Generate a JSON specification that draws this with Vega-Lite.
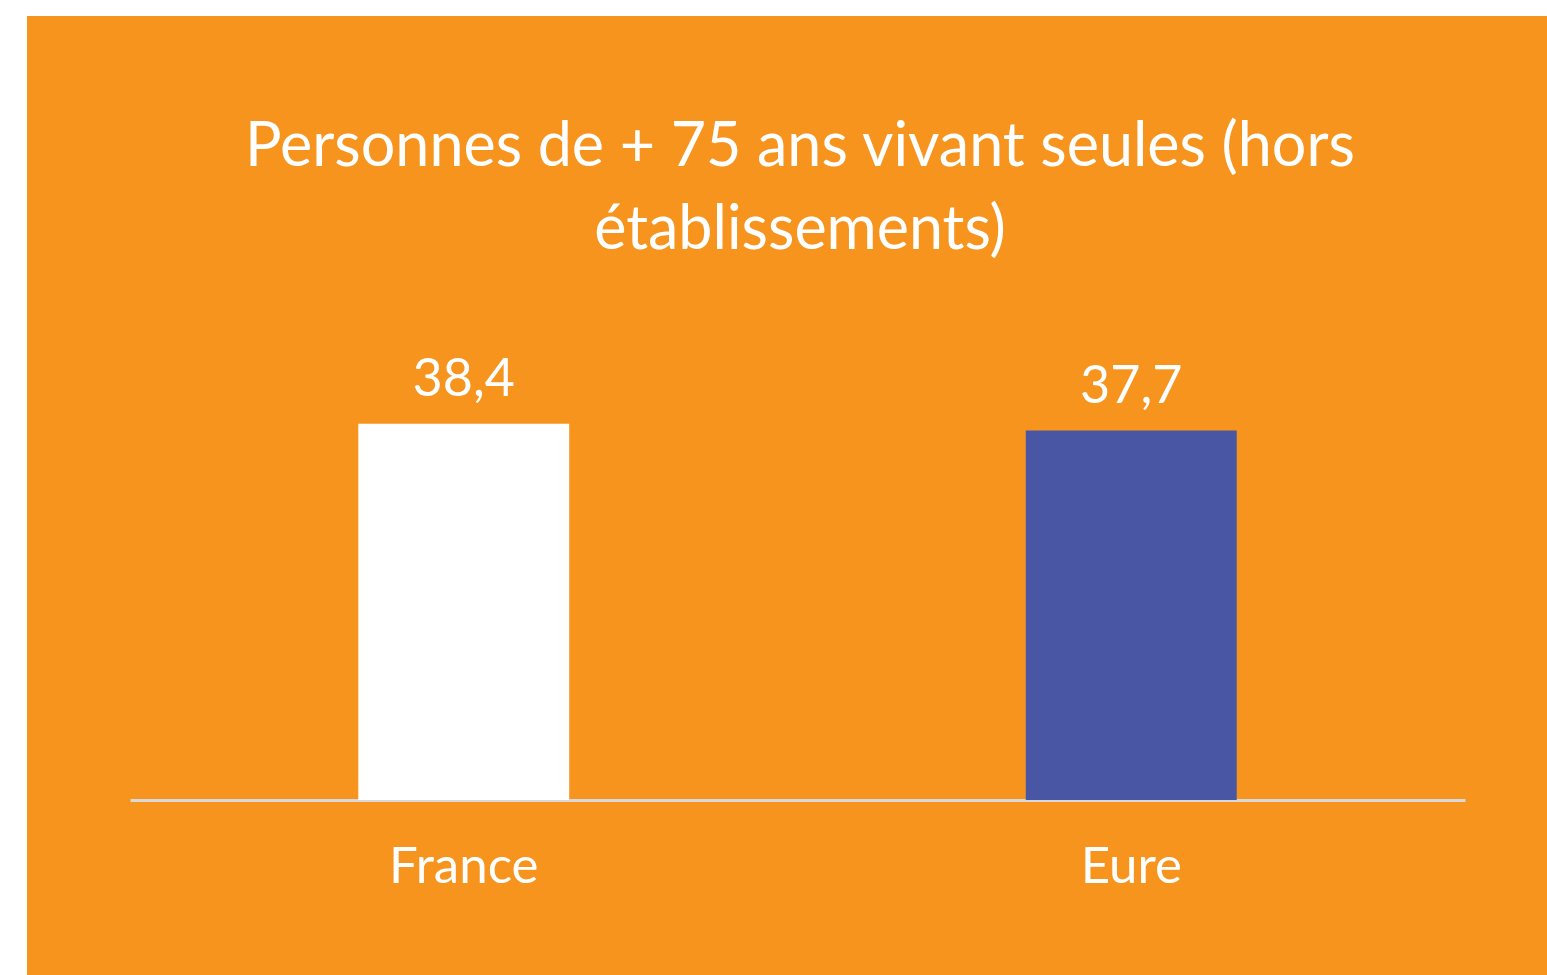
{
  "$schema": "https://vega.github.io/schema/vega-lite/v6.json",
  "width": 1520,
  "height": 959,
  "autosize": {"type": "none"},
  "padding": {"left": 27, "top": 16, "right": 0, "bottom": 0},
  "background": "#FFFFFF",
  "config": {
    "view": {"fill": "#F7941E", "stroke": null},
    "font": "Lato"
  },
  "title": {
    "text": ["Personnes de + 75 ans vivant seules (hors", "établissements)"],
    "font": "Lato",
    "fontSize": 61,
    "fontWeight": "normal",
    "color": "#FFFFFF",
    "anchor": "middle",
    "lineHeight": 83,
    "offset": -246,
    "dx": 13
  },
  "data": {
    "values": [
      {"zone": "France", "valeur": 38.4, "label": "38,4"},
      {"zone": "Eure", "valeur": 37.7, "label": "37,7"}
    ]
  },
  "encoding": {
    "x": {
      "field": "zone",
      "type": "nominal",
      "sort": ["France", "Eure"],
      "scale": {"range": [103, 1438], "paddingInner": 0.684, "paddingOuter": 0.342},
      "axis": {
        "title": null,
        "offset": -175,
        "domainColor": "#D9D9D9",
        "domainWidth": 3,
        "ticks": false,
        "labelAngle": 0,
        "labelColor": "#FFFFFF",
        "labelFont": "Lato",
        "labelFontSize": 51,
        "labelPadding": 42
      }
    },
    "y": {
      "field": "valeur",
      "type": "quantitative",
      "scale": {"domain": [0, 80], "range": [784, 0]},
      "axis": null
    }
  },
  "layer": [
    {
      "mark": {"type": "bar"},
      "encoding": {
        "color": {
          "field": "zone",
          "type": "nominal",
          "scale": {"domain": ["France", "Eure"], "range": ["#FFFFFF", "#4856A3"]},
          "legend": null
        }
      }
    },
    {
      "mark": {"type": "text", "baseline": "alphabetic", "dy": -28, "fontSize": 52, "color": "#FFFFFF", "font": "Lato"},
      "encoding": {"text": {"field": "label"}}
    }
  ]
}
